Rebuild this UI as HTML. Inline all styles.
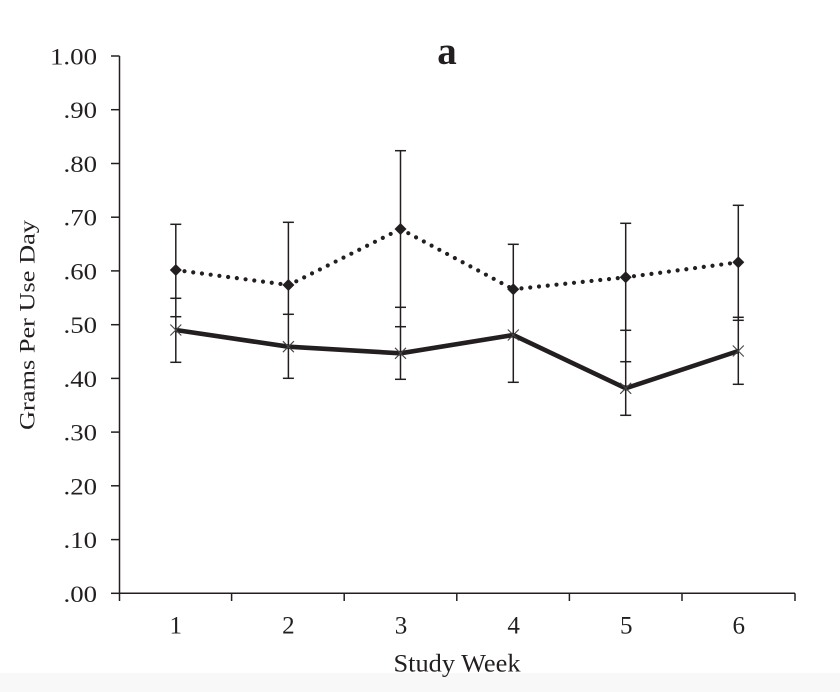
<!DOCTYPE html>
<html>
<head>
<meta charset="utf-8">
<style>
html,body{margin:0;padding:0;background:#fff;}
svg{display:block;}
text{font-family:"Liberation Serif","Times New Roman",Times,serif;fill:#231f20;}
</style>
</head>
<body>
<svg width="840" height="692" viewBox="0 0 840 692" xmlns="http://www.w3.org/2000/svg">
<rect x="0" y="0" width="840" height="692" fill="#ffffff"/>
<rect x="0" y="673" width="840" height="19" fill="#f8f8f8"/>

<!-- title -->
<text x="447" y="64" font-size="39" font-weight="bold" text-anchor="middle">a</text>

<!-- y axis title -->
<text transform="translate(34.5,325) rotate(-90)" font-size="22" text-anchor="middle" textLength="210" lengthAdjust="spacingAndGlyphs">Grams Per Use Day</text>

<!-- axes -->
<g stroke="#231f20" stroke-width="1.5" fill="none">
<line x1="119.5" y1="56" x2="119.5" y2="601"/>
<line x1="119.5" y1="593.3" x2="795" y2="593.3"/>
<!-- y ticks -->
<line x1="111" y1="56" x2="119.5" y2="56"/>
<line x1="111" y1="109.7" x2="119.5" y2="109.7"/>
<line x1="111" y1="163.5" x2="119.5" y2="163.5"/>
<line x1="111" y1="217.2" x2="119.5" y2="217.2"/>
<line x1="111" y1="270.9" x2="119.5" y2="270.9"/>
<line x1="111" y1="324.7" x2="119.5" y2="324.7"/>
<line x1="111" y1="378.4" x2="119.5" y2="378.4"/>
<line x1="111" y1="432.1" x2="119.5" y2="432.1"/>
<line x1="111" y1="485.8" x2="119.5" y2="485.8"/>
<line x1="111" y1="539.6" x2="119.5" y2="539.6"/>
<line x1="111" y1="593.3" x2="119.5" y2="593.3"/>
<!-- x ticks -->
<line x1="231.6" y1="593.3" x2="231.6" y2="601"/>
<line x1="344.2" y1="593.3" x2="344.2" y2="601"/>
<line x1="456.8" y1="593.3" x2="456.8" y2="601"/>
<line x1="569.4" y1="593.3" x2="569.4" y2="601"/>
<line x1="682" y1="593.3" x2="682" y2="601"/>
<line x1="795" y1="593.3" x2="795" y2="601"/>
</g>

<!-- y tick labels -->
<g font-size="23.5" text-anchor="end">
<text x="97" y="64.5" textLength="47" lengthAdjust="spacingAndGlyphs">1.00</text>
<text x="97" y="118.2" textLength="33.5" lengthAdjust="spacingAndGlyphs">.90</text>
<text x="97" y="172" textLength="33.5" lengthAdjust="spacingAndGlyphs">.80</text>
<text x="97" y="225.7" textLength="33.5" lengthAdjust="spacingAndGlyphs">.70</text>
<text x="97" y="279.4" textLength="33.5" lengthAdjust="spacingAndGlyphs">.60</text>
<text x="97" y="333.2" textLength="33.5" lengthAdjust="spacingAndGlyphs">.50</text>
<text x="97" y="386.9" textLength="33.5" lengthAdjust="spacingAndGlyphs">.40</text>
<text x="97" y="440.6" textLength="33.5" lengthAdjust="spacingAndGlyphs">.30</text>
<text x="97" y="494.3" textLength="33.5" lengthAdjust="spacingAndGlyphs">.20</text>
<text x="97" y="548.1" textLength="33.5" lengthAdjust="spacingAndGlyphs">.10</text>
<text x="97" y="601.8" textLength="33.5" lengthAdjust="spacingAndGlyphs">.00</text>
</g>

<!-- x tick labels -->
<g font-size="25" text-anchor="middle">
<text x="175.8" y="633.5">1</text>
<text x="288.4" y="633.5">2</text>
<text x="401" y="633.5">3</text>
<text x="513.6" y="633.5">4</text>
<text x="626.2" y="633.5">5</text>
<text x="738.8" y="633.5">6</text>
</g>
<text x="457" y="671.5" font-size="25.5" text-anchor="middle" textLength="127" lengthAdjust="spacingAndGlyphs">Study Week</text>

<!-- error bars -->
<g stroke="#231f20" stroke-width="1.5" fill="none">
<!-- week 1 -->
<line x1="175.8" y1="224.3" x2="175.8" y2="362.3"/>
<line x1="170.3" y1="224.3" x2="181.3" y2="224.3"/>
<line x1="170.3" y1="298.3" x2="181.3" y2="298.3"/>
<line x1="170.3" y1="316.7" x2="181.3" y2="316.7"/>
<line x1="170.3" y1="362.3" x2="181.3" y2="362.3"/>
<!-- week 2 -->
<line x1="288.4" y1="222.3" x2="288.4" y2="378.3"/>
<line x1="282.9" y1="222.3" x2="293.9" y2="222.3"/>
<line x1="282.9" y1="314.3" x2="293.9" y2="314.3"/>
<line x1="282.9" y1="378.3" x2="293.9" y2="378.3"/>
<!-- week 3 -->
<line x1="400.5" y1="150.7" x2="400.5" y2="379.3"/>
<line x1="395" y1="150.7" x2="406" y2="150.7"/>
<line x1="395" y1="307.3" x2="406" y2="307.3"/>
<line x1="395" y1="326.7" x2="406" y2="326.7"/>
<line x1="395" y1="379.3" x2="406" y2="379.3"/>
<!-- week 4 -->
<line x1="513.3" y1="244.3" x2="513.3" y2="382.3"/>
<line x1="507.8" y1="244.3" x2="518.8" y2="244.3"/>
<line x1="507.8" y1="382.3" x2="518.8" y2="382.3"/>
<!-- week 5 -->
<line x1="625.7" y1="223.3" x2="625.7" y2="415.3"/>
<line x1="620.2" y1="223.3" x2="631.2" y2="223.3"/>
<line x1="620.2" y1="330.3" x2="631.2" y2="330.3"/>
<line x1="620.2" y1="361.7" x2="631.2" y2="361.7"/>
<line x1="620.2" y1="415.3" x2="631.2" y2="415.3"/>
<!-- week 6 -->
<line x1="738.3" y1="205.3" x2="738.3" y2="384.3"/>
<line x1="732.8" y1="205.3" x2="743.8" y2="205.3"/>
<line x1="732.8" y1="317.3" x2="743.8" y2="317.3"/>
<line x1="732.8" y1="320.3" x2="743.8" y2="320.3"/>
<line x1="732.8" y1="384.3" x2="743.8" y2="384.3"/>
</g>

<!-- solid series -->
<polyline points="175.8,330 288.4,346.7 400.5,353.3 513.3,335 625.7,388.3 738.3,351" fill="none" stroke="#231f20" stroke-width="4.6" stroke-linejoin="miter"/>
<g stroke="#444" stroke-width="1.1">
<path d="M170.3,324.5 L181.3,335.5 M170.3,335.5 L181.3,324.5"/>
<path d="M282.9,341.2 L293.9,352.2 M282.9,352.2 L293.9,341.2"/>
<path d="M395,347.8 L406,358.8 M395,358.8 L406,347.8"/>
<path d="M507.8,329.5 L518.8,340.5 M507.8,340.5 L518.8,329.5"/>
<path d="M620.2,382.8 L631.2,393.8 M620.2,393.8 L631.2,382.8"/>
<path d="M732.8,345.5 L743.8,356.5 M732.8,356.5 L743.8,345.5"/>
</g>

<!-- dotted series -->
<g fill="none" stroke="#231f20" stroke-width="4.2" stroke-linecap="round" stroke-dasharray="0 8.8">
<line x1="184.5" y1="271.2" x2="288.4" y2="285"/>
<line x1="296.3" y1="281.3" x2="400.5" y2="229"/>
<line x1="408.3" y1="233.2" x2="513.3" y2="289.3"/>
<line x1="521.5" y1="288.4" x2="625.7" y2="277.3"/>
<line x1="634" y1="276.2" x2="738.3" y2="262.3"/>
</g>
<g fill="#231f20">
<polygon points="175.8,264 181.8,270 175.8,276 169.8,270"/>
<polygon points="288.4,279 294.4,285 288.4,291 282.4,285"/>
<polygon points="400.5,223 406.5,229 400.5,235 394.5,229"/>
<polygon points="513.3,283.3 519.3,289.3 513.3,295.3 507.3,289.3"/>
<polygon points="625.7,271.3 631.7,277.3 625.7,283.3 619.7,277.3"/>
<polygon points="738.3,256.3 744.3,262.3 738.3,268.3 732.3,262.3"/>
</g>
</svg>
</body>
</html>
